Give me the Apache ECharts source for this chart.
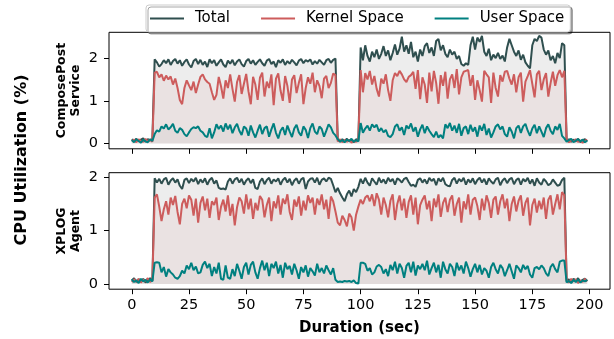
<!DOCTYPE html>
<html>
<head>
<meta charset="utf-8">
<script src="https://cdn.jsdelivr.net/npm/echarts@6/dist/echarts.min.js"></script>
<style>html,body{margin:0;padding:0;background:#fff}#c{width:614px;height:339px}</style>
</head>
<body>
<div id="c"></div>
<script>
// ---- data (seconds 0..199) ----
const xTicks = [0, 25, 50, 75, 100, 125, 150, 175, 200];
const yTicks = [0, 1, 2];
const seriesNames = ['Total', 'Kernel Space', 'User Space'];
const panelNames = ['ComposePost\nService', 'XPLOG\nAgent'];

const composeTotal = [
0.10,0.06,0.11,0.05,0.09,0.12,0.04,0.10,0.07,0.11,
1.97,1.90,1.80,1.86,1.95,1.88,1.97,1.84,1.93,1.98,
1.87,1.95,1.82,1.91,1.97,1.85,1.78,1.93,1.98,1.86,
1.96,1.84,1.92,1.79,1.97,1.88,1.95,1.82,1.90,1.97,
1.85,1.79,1.94,1.87,1.96,1.83,1.92,1.97,1.86,1.80,
1.93,1.98,1.87,1.95,1.84,1.91,1.97,1.88,1.82,1.94,
1.98,1.86,1.92,1.79,1.95,1.89,1.97,1.84,1.93,1.87,
1.96,1.90,1.83,1.94,1.98,1.88,1.95,1.92,1.97,1.85,
1.93,1.87,1.96,1.90,1.84,1.95,1.98,1.89,1.96,1.99,
0.08,0.04,0.10,0.06,0.11,0.05,0.09,0.03,0.10,0.07,
2.25,1.95,2.30,2.05,1.92,2.15,2.02,2.20,1.98,2.10,
2.28,2.05,2.18,1.95,2.12,2.32,2.08,2.22,2.50,2.15,
2.30,2.10,2.38,2.02,2.15,1.92,2.20,2.05,2.28,2.35,
2.12,2.25,2.05,2.40,2.45,2.18,2.30,2.10,2.02,2.20,
2.08,2.15,1.98,2.05,1.86,1.82,1.88,1.84,2.30,2.50,
2.20,2.48,2.38,2.52,2.15,2.05,2.22,1.95,2.08,2.00,
2.12,1.98,2.06,1.92,2.25,2.45,2.30,2.15,2.05,2.18,
1.96,2.08,1.90,1.82,1.76,2.30,2.45,2.40,2.52,2.48,
2.20,2.08,2.18,1.95,2.05,1.88,2.12,2.00,2.35,2.30,
0.06,0.10,0.04,0.09,0.05,0.11,0.03,0.08,0.10,0.05];

const composeKernel = [
0.05,0.09,0.03,0.10,0.06,0.04,0.11,0.05,0.09,0.04,
1.66,1.68,1.55,1.62,1.47,1.59,1.50,1.57,1.38,1.52,
1.30,1.02,0.92,1.30,1.48,1.36,1.25,1.45,1.18,1.38,
1.56,1.62,1.50,1.44,1.40,1.20,1.02,1.14,1.56,1.34,
1.05,1.48,1.30,1.62,1.28,0.98,1.44,1.60,1.16,1.40,
1.63,1.22,0.92,1.56,1.38,1.02,1.54,1.66,1.10,1.45,
1.30,1.62,0.90,1.52,1.64,1.24,1.00,1.58,1.35,0.95,
1.50,1.60,1.18,1.42,1.62,0.92,1.30,1.55,1.40,1.66,
1.20,1.48,1.35,1.06,1.52,1.58,1.30,1.42,1.64,1.60,
0.05,0.10,0.03,0.08,0.04,0.09,0.02,0.07,0.04,0.09,
1.72,1.20,1.65,1.50,1.70,1.38,1.58,1.28,1.10,1.52,
1.40,1.62,1.25,1.00,1.48,1.65,1.58,1.70,1.62,1.50,
1.44,1.56,1.60,1.68,1.28,1.72,1.04,1.55,1.38,0.95,
1.66,1.22,1.70,1.42,0.93,1.60,1.35,1.68,1.05,1.50,
1.62,1.30,1.74,1.15,1.55,1.68,1.70,1.72,1.35,1.60,
1.02,1.48,1.25,0.98,1.70,1.62,1.55,0.95,1.66,1.30,
1.10,1.60,1.45,1.68,1.70,1.52,1.38,1.62,1.20,1.55,
1.66,0.98,1.45,1.58,1.72,1.40,1.08,1.62,1.70,1.25,
1.50,1.65,1.10,1.42,1.68,1.35,1.60,1.72,1.55,1.70,
0.09,0.03,0.08,0.05,0.10,0.04,0.07,0.02,0.06,0.09];

const composeUser = [
0.08,0.03,0.10,0.06,0.02,0.09,0.05,0.03,0.10,0.06,
0.22,0.31,0.28,0.40,0.35,0.45,0.33,0.38,0.46,0.30,
0.25,0.36,0.32,0.22,0.17,0.26,0.34,0.38,0.36,0.40,
0.30,0.26,0.18,0.15,0.36,0.12,0.26,0.45,0.34,0.42,
0.28,0.47,0.33,0.44,0.24,0.38,0.46,0.30,0.20,0.40,
0.35,0.18,0.42,0.26,0.14,0.30,0.44,0.22,0.36,0.40,
0.16,0.33,0.47,0.25,0.12,0.30,0.38,0.20,0.42,0.28,
0.15,0.35,0.44,0.26,0.18,0.40,0.32,0.13,0.36,0.47,
0.28,0.22,0.40,0.34,0.16,0.30,0.45,0.38,0.25,0.19,
0.10,0.05,0.08,0.03,0.09,0.06,0.11,0.04,0.08,0.05,
0.48,0.25,0.35,0.42,0.30,0.45,0.38,0.44,0.28,0.36,
0.26,0.32,0.18,0.15,0.22,0.40,0.45,0.30,0.38,0.20,
0.42,0.35,0.47,0.28,0.38,0.16,0.33,0.44,0.24,0.40,
0.30,0.22,0.15,0.28,0.14,0.20,0.12,0.45,0.36,0.48,
0.30,0.42,0.25,0.46,0.18,0.36,0.40,0.22,0.44,0.28,
0.38,0.16,0.42,0.30,0.46,0.20,0.35,0.14,0.26,0.40,
0.45,0.33,0.40,0.22,0.16,0.38,0.28,0.12,0.36,0.42,
0.25,0.40,0.46,0.30,0.18,0.35,0.44,0.24,0.40,0.28,
0.15,0.36,0.45,0.30,0.22,0.40,0.32,0.46,0.18,0.12,
0.04,0.08,0.11,0.03,0.07,0.10,0.05,0.09,0.03,0.07];

const xplogTotal = [
0.07,0.11,0.04,0.09,0.05,0.10,0.03,0.08,0.11,0.06,
1.98,1.90,1.97,1.88,1.96,1.99,1.86,1.94,1.98,1.90,
1.96,1.84,1.78,1.95,1.98,1.89,1.97,1.92,1.99,1.87,
1.96,1.90,1.98,1.86,1.95,1.99,1.88,1.94,1.80,1.78,
1.79,1.77,1.92,1.98,1.88,1.96,1.99,1.90,1.97,1.86,
1.94,1.98,1.89,1.96,1.80,1.78,1.92,1.98,1.87,1.95,
1.99,1.88,1.96,1.92,1.98,1.86,1.95,1.99,1.90,1.97,
1.85,1.94,1.98,1.88,1.96,1.99,1.78,1.92,1.97,1.98,
1.90,1.99,1.86,1.95,1.98,1.92,1.99,1.97,1.85,1.72,
1.80,1.70,1.62,1.55,1.68,1.75,1.64,1.78,1.72,1.82,
1.97,1.88,1.99,1.90,1.84,1.98,1.92,1.86,1.99,1.90,
1.96,1.88,1.99,1.92,1.97,1.86,1.98,1.95,1.90,1.97,
1.99,1.91,1.84,1.86,1.82,1.95,1.98,1.90,1.96,1.88,
1.99,1.93,1.97,1.85,1.98,1.92,1.99,1.87,1.84,1.83,
1.95,1.99,1.88,1.97,1.92,1.99,1.86,1.96,1.90,1.98,
1.87,1.95,1.99,1.90,1.97,1.86,1.98,1.92,1.88,1.96,
1.99,1.85,1.94,1.98,1.89,1.96,1.99,1.87,1.95,1.98,
1.86,1.97,1.92,1.99,1.88,1.96,1.84,1.98,1.90,1.86,
1.97,1.92,1.85,1.88,1.96,1.90,1.84,1.86,1.95,1.99,
0.05,0.09,0.03,0.10,0.06,0.11,0.04,0.08,0.10,0.06];

const xplogKernel = [
0.04,0.09,0.05,0.10,0.03,0.08,0.06,0.11,0.04,0.08,
1.62,1.68,1.45,1.18,1.40,1.55,1.30,1.62,1.48,1.65,
1.35,1.12,1.50,1.60,1.42,1.66,1.58,1.28,1.60,1.15,
1.52,1.64,1.38,1.60,1.24,1.55,1.48,1.62,1.20,1.45,
1.58,1.36,1.66,1.28,1.50,1.10,1.44,1.62,1.55,1.32,
1.68,1.40,1.60,1.22,1.52,1.38,1.65,1.58,1.25,1.48,
1.62,1.18,1.55,1.42,1.66,1.30,1.60,1.50,1.68,1.35,
1.20,1.58,1.45,1.64,1.28,1.56,1.38,1.66,1.52,1.62,
1.30,1.60,1.48,1.68,1.40,1.58,1.22,1.64,1.55,1.36,
1.15,1.10,1.28,1.20,1.08,1.32,1.25,1.00,1.30,1.45,
1.58,1.50,1.62,1.66,1.55,1.68,1.46,1.70,1.58,1.30,
1.62,1.48,1.25,1.56,1.68,1.20,1.50,1.66,1.38,1.60,
1.24,1.54,1.66,1.30,1.62,1.12,1.48,1.58,1.66,1.40,
1.56,1.18,1.60,1.44,1.68,1.26,1.52,1.62,1.35,1.58,
1.66,1.28,1.50,1.62,1.15,1.55,1.40,1.68,1.30,1.58,
1.62,1.46,1.20,1.60,1.38,1.66,1.52,1.24,1.58,1.64,
1.30,1.55,1.68,1.42,1.60,1.18,1.50,1.64,1.36,1.56,
1.66,1.28,1.52,1.62,1.10,1.48,1.60,1.34,1.56,1.40,
1.62,1.22,1.58,1.66,1.30,1.50,1.68,1.40,1.72,1.66,
0.08,0.03,0.10,0.05,0.09,0.02,0.07,0.04,0.10,0.05];

const xplogUser = [
0.09,0.04,0.07,0.02,0.10,0.05,0.08,0.03,0.09,0.05,
0.40,0.41,0.40,0.22,0.32,0.14,0.28,0.22,0.18,0.12,
0.10,0.15,0.25,0.20,0.35,0.28,0.40,0.26,0.33,0.20,
0.22,0.36,0.42,0.30,0.38,0.15,0.32,0.20,0.40,0.10,
0.08,0.35,0.12,0.10,0.28,0.15,0.38,0.25,0.10,0.32,
0.40,0.18,0.36,0.42,0.22,0.10,0.30,0.44,0.26,0.40,
0.15,0.38,0.30,0.42,0.20,0.36,0.12,0.40,0.28,0.34,
0.18,0.38,0.26,0.10,0.32,0.22,0.35,0.14,0.30,0.24,
0.16,0.38,0.22,0.30,0.20,0.35,0.26,0.18,0.30,0.08,
0.04,0.05,0.04,0.06,0.05,0.06,0.04,0.07,0.02,0.01,
0.40,0.40,0.38,0.25,0.30,0.18,0.22,0.33,0.36,0.32,
0.20,0.28,0.15,0.36,0.26,0.42,0.20,0.38,0.30,0.12,
0.34,0.40,0.22,0.42,0.16,0.35,0.28,0.38,0.26,0.44,
0.18,0.30,0.40,0.22,0.36,0.12,0.42,0.28,0.20,0.38,
0.32,0.15,0.40,0.26,0.35,0.20,0.42,0.30,0.14,0.28,
0.38,0.22,0.36,0.18,0.30,0.25,0.12,0.32,0.40,0.28,
0.20,0.36,0.30,0.15,0.26,0.38,0.24,0.10,0.35,0.30,
0.22,0.36,0.28,0.34,0.18,0.12,0.30,0.32,0.28,0.35,
0.30,0.20,0.15,0.32,0.38,0.28,0.22,0.42,0.44,0.44,
0.03,0.06,0.02,0.08,0.04,0.09,0.03,0.07,0.05,0.08];

// ---- chart ----
const FONT = 'DejaVu Sans';
const lineColors = ['#2f4f4f', '#cd5c5c', '#008080'];
const fillColors = ['rgba(0,0,0,0.10)', 'rgba(205,92,92,0.10)', 'rgba(60,60,60,0.06)'];
const panels = [
  [composeTotal, composeKernel, composeUser],
  [xplogTotal, xplogKernel, xplogUser]
];
const yRanges = [[-0.124, 2.604], [-0.095, 2.085]];
const gridTops = [32.3, 172.7];
const gridH = 116.5;

const grids = gridTops.map(t => ({
  left: 109, right: 4, top: t, height: gridH,
  show: true, borderColor: '#000', borderWidth: 1, backgroundColor: 'transparent'
}));

const xAxes = [0, 1].map(i => ({
  type: 'value', gridIndex: i, min: -9.95, max: 208.95, position: 'bottom',
  axisLine: { show: false, onZero: false },
  splitLine: { show: false },
  axisTick: { show: true, length: 5, lineStyle: { color: '#000', width: 1 }, customValues: xTicks },
  axisLabel: { show: i === 1, customValues: xTicks, color: '#000', fontFamily: FONT, fontSize: 14.5, margin: 9 }
}));

const yAxes = [0, 1].map(i => ({
  type: 'value', gridIndex: i, min: yRanges[i][0], max: yRanges[i][1], position: 'left',
  axisLine: { show: false, onZero: false },
  splitLine: { show: false },
  axisTick: { show: true, length: 5, lineStyle: { color: '#000', width: 1 }, customValues: yTicks },
  axisLabel: { customValues: yTicks, color: '#000', fontFamily: FONT, fontSize: 14.5, margin: 11 }
}));

const series = [];
panels.forEach((arrs, p) => {
  arrs.forEach((vals, k) => {
    series.push({
      name: seriesNames[k], type: 'line', xAxisIndex: p, yAxisIndex: p,
      data: vals.map((v, i) => [i, v]),
      symbol: 'none', silent: true, animation: false,
      lineStyle: { color: lineColors[k], width: 2 },
      itemStyle: { color: lineColors[k] },
      areaStyle: { color: fillColors[k], origin: 'auto' },
      z: 2 + k
    });
  });
});

const chart = echarts.init(document.getElementById('c'), null, { renderer: 'canvas' });
chart.setOption({
  animation: false,
  backgroundColor: '#fff',
  grid: grids,
  xAxis: xAxes,
  yAxis: yAxes,
  series: series,
  legend: {
    data: seriesNames, left: 146, top: 5, z: 10,
    icon: 'rect', itemWidth: 34, itemHeight: 2, itemGap: 31,
    padding: [6, 6, 6, 4],
    backgroundColor: '#fff', borderColor: '#ccc', borderWidth: 1, borderRadius: 3,
    shadowColor: 'rgba(0,0,0,0.35)', shadowOffsetX: 2, shadowOffsetY: 2, shadowBlur: 0,
    textStyle: { fontFamily: FONT, fontSize: 15, color: '#000', padding: [0, 0, 0, 6] }
  },
  graphic: [
    { type: 'text', x: 22, y: 160, rotation: Math.PI / 2,
      style: { text: 'CPU Utilization (%)', font: 'bold 16px "DejaVu Sans"', fill: '#000', textAlign: 'center', textVerticalAlign: 'middle' } },
    { type: 'text', x: 69, y: 90.6, rotation: Math.PI / 2,
      style: { text: panelNames[0], font: 'bold 12.5px "DejaVu Sans"', lineHeight: 14, fill: '#000', textAlign: 'center', textVerticalAlign: 'middle' } },
    { type: 'text', x: 69, y: 231, rotation: Math.PI / 2,
      style: { text: panelNames[1], font: 'bold 12.5px "DejaVu Sans"', lineHeight: 14, fill: '#000', textAlign: 'center', textVerticalAlign: 'middle' } },
    { type: 'text', x: 359.5, y: 328,
      style: { text: 'Duration (sec)', font: 'bold 15px "DejaVu Sans"', fill: '#000', textAlign: 'center', textVerticalAlign: 'middle' } }
  ]
});
</script>
</body>
</html>
